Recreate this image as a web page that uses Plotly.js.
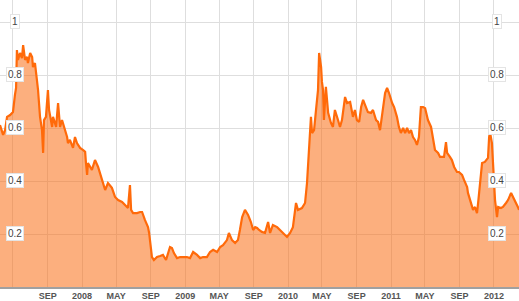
<!DOCTYPE html>
<html>
<head>
<meta charset="utf-8">
<script src="https://cdn.plot.ly/plotly-3.0.1.min.js"></script>
<style>html,body{margin:0;padding:0;background:#fff;}#chart{width:519px;height:301px;}</style>
</head>
<body>
<div id="chart"></div>
<script>
var dates = [
"2007-03-16","2007-03-27","2007-04-03","2007-04-10","2007-04-21","2007-05-01","2007-05-08","2007-05-12","2007-05-15","2007-05-19",
"2007-05-26","2007-06-02","2007-06-06","2007-06-13","2007-06-20","2007-06-23","2007-07-01","2007-07-08","2007-07-11","2007-07-18",
"2007-07-25","2007-07-29","2007-08-05","2007-08-12","2007-08-16","2007-08-19","2007-08-26","2007-09-02","2007-09-06","2007-09-17",
"2007-09-20","2007-10-01","2007-10-08","2007-10-15","2007-10-22","2007-11-02","2007-11-09","2007-11-12","2007-11-19","2007-11-30",
"2007-12-07","2007-12-14","2007-12-25","2008-01-05","2008-01-12","2008-01-15","2008-01-19","2008-01-22","2008-01-29","2008-02-05",
"2008-02-16","2008-02-27","2008-03-12","2008-03-23","2008-04-02","2008-04-16","2008-04-27","2008-05-08","2008-05-22","2008-06-02",
"2008-06-12","2008-06-19","2008-06-23","2008-06-30","2008-07-14","2008-07-25","2008-08-01","2008-08-11","2008-08-22","2008-08-26",
"2008-09-02","2008-09-05","2008-09-12","2008-09-23","2008-10-04","2008-10-14","2008-10-25","2008-11-01","2008-11-08","2008-11-15",
"2008-11-22","2008-12-03","2008-12-14","2008-12-24","2009-01-07","2009-01-18","2009-01-29","2009-02-12","2009-02-23","2009-03-05",
"2009-03-19","2009-03-30","2009-04-10","2009-04-24","2009-05-05","2009-05-15","2009-05-29","2009-06-05","2009-06-16","2009-06-27",
"2009-07-07","2009-07-14","2009-07-22","2009-08-01","2009-08-12","2009-08-22","2009-08-30","2009-09-06","2009-09-13","2009-09-20",
"2009-09-30","2009-10-11","2009-10-22","2009-10-29","2009-11-08","2009-11-23","2009-12-03","2009-12-14","2009-12-28","2010-01-08",
"2010-01-18","2010-01-29","2010-02-05","2010-02-19","2010-03-02","2010-03-09","2010-03-13","2010-03-20","2010-03-23","2010-03-27",
"2010-04-03","2010-04-10","2010-04-17","2010-04-21","2010-04-28","2010-05-01","2010-05-05","2010-05-08","2010-05-15","2010-05-23",
"2010-06-02","2010-06-09","2010-06-16","2010-06-27","2010-07-04","2010-07-11","2010-07-15","2010-07-22","2010-07-29","2010-08-09",
"2010-08-19","2010-08-26","2010-09-02","2010-09-10","2010-09-17","2010-09-24","2010-10-04","2010-10-11","2010-10-22","2010-10-29",
"2010-11-09","2010-11-16","2010-11-23","2010-12-04","2010-12-11","2010-12-18","2010-12-25","2011-01-05","2011-01-12","2011-01-22",
"2011-01-29","2011-02-05","2011-02-13","2011-02-20","2011-02-27","2011-03-06","2011-03-13","2011-03-20","2011-03-27","2011-04-03",
"2011-04-10","2011-04-17","2011-04-25","2011-05-02","2011-05-12","2011-05-23","2011-05-30","2011-06-06","2011-06-17","2011-06-24",
"2011-07-01","2011-07-08","2011-07-15","2011-07-19","2011-07-29","2011-08-05","2011-08-13","2011-08-23","2011-08-30","2011-09-10",
"2011-09-17","2011-09-28","2011-10-01","2011-10-08","2011-10-15","2011-10-19","2011-10-26","2011-11-02","2011-11-06","2011-11-13",
"2011-11-20","2011-11-30","2011-12-11","2011-12-15","2011-12-18","2011-12-25","2011-12-29","2012-01-01","2012-01-05","2012-01-12",
"2012-01-16","2012-01-26","2012-02-02","2012-02-13","2012-02-20","2012-03-02","2012-03-09","2012-03-16","2012-03-26","2012-03-30"
];
var values = [
0.611,0.574,0.592,0.642,0.649,0.660,0.725,0.751,0.894,0.857,
0.883,0.864,0.913,0.857,0.868,0.845,0.883,0.868,0.830,0.845,
0.781,0.743,0.642,0.592,0.506,0.630,0.642,0.743,0.668,0.604,
0.642,0.604,0.694,0.604,0.630,0.592,0.566,0.543,0.555,0.525,
0.566,0.543,0.525,0.517,0.510,0.468,0.423,0.468,0.453,0.442,
0.479,0.453,0.404,0.366,0.392,0.374,0.340,0.328,0.321,0.309,
0.298,0.385,0.291,0.279,0.279,0.283,0.283,0.253,0.226,0.204,
0.151,0.113,0.102,0.113,0.117,0.121,0.102,0.128,0.151,0.147,
0.128,0.109,0.113,0.113,0.113,0.109,0.132,0.121,0.109,0.113,
0.113,0.132,0.140,0.132,0.151,0.158,0.177,0.204,0.177,0.166,
0.177,0.215,0.264,0.291,0.272,0.245,0.215,0.226,0.223,0.215,
0.208,0.204,0.245,0.204,0.234,0.226,0.215,0.204,0.189,0.204,
0.226,0.317,0.291,0.298,0.317,0.392,0.453,0.566,0.642,0.581,
0.592,0.668,0.743,0.883,0.830,0.774,0.743,0.630,0.755,0.657,
0.619,0.604,0.668,0.630,0.604,0.630,0.657,0.717,0.694,0.698,
0.642,0.668,0.630,0.623,0.679,0.706,0.679,0.660,0.657,0.668,
0.630,0.623,0.592,0.668,0.732,0.751,0.732,0.694,0.679,0.642,
0.604,0.581,0.600,0.581,0.600,0.581,0.592,0.566,0.555,0.536,
0.566,0.679,0.679,0.675,0.630,0.604,0.566,0.517,0.506,0.491,
0.491,0.491,0.547,0.506,0.491,0.479,0.453,0.434,0.434,0.423,
0.404,0.377,0.355,0.328,0.302,0.291,0.302,0.279,0.317,0.392,
0.468,0.472,0.487,0.566,0.585,0.543,0.479,0.404,0.328,0.264,
0.302,0.298,0.302,0.317,0.328,0.355,0.340,0.328,0.302,0.291
];
var tickDates = ["2007-05-01","2007-09-01","2008-01-01","2008-05-01","2008-09-01","2009-01-01","2009-05-01","2009-09-01","2010-01-01","2010-05-01","2010-09-01","2011-01-01","2011-05-01","2011-09-01","2012-01-01"];
var tickLabels = ["","SEP","2008","MAY","SEP","2009","MAY","SEP","2010","MAY","SEP","2011","MAY","SEP","2012"];
var yLevels = [0.2,0.4,0.6,0.8,1];
var yLabels = ["0.2","0.4","0.6","0.8","1"];

var annotations = [];
yLevels.forEach(function(v,i){
  [15/519, 497/519].forEach(function(px){
    annotations.push({
      xref:'paper', yref:'y', x:px, y:v, text:yLabels[i], showarrow:false,
      xanchor:'center', yanchor:'middle', yshift:1,
      font:{family:'Liberation Sans, Arial, sans-serif', size:10, color:'#444'},
      bgcolor:'#ffffff', bordercolor:'#e4e4e4', borderwidth:1, borderpad:1
    });
  });
});

var trace = {
  x: dates, y: values, type:'scatter', mode:'lines',
  line:{color:'#FF6A0A', width:2.2},
  fill:'tozeroy', fillcolor:'rgba(250,110,20,0.55)',
  hoverinfo:'skip'
};
var layout = {
  width:519, height:301,
  margin:{l:0,r:0,t:0,b:14,pad:0},
  paper_bgcolor:'#fff', plot_bgcolor:'#fff',
  showlegend:false,
  xaxis:{
    type:'date', range:['2007-03-16','2012-03-30'],
    tickmode:'array', tickvals:tickDates, ticktext:tickLabels,
    showgrid:true, gridcolor:'#dedede', gridwidth:1,
    showline:true, linecolor:'#a0a0a0', linewidth:1.5,
    ticks:'', zeroline:false,
    tickfont:{family:'Liberation Sans, Arial, sans-serif', size:9, color:'#555', weight:'bold'},
    fixedrange:true
  },
  yaxis:{
    range:[0,1.083], tickmode:'array', tickvals:yLevels,
    showticklabels:false, showgrid:true, gridcolor:'#dedede', gridwidth:1,
    zeroline:false, showline:false, ticks:'', fixedrange:true
  },
  annotations: annotations
};
Plotly.newPlot('chart',[trace],layout,{displayModeBar:false,staticPlot:true});
</script>
</body>
</html>
